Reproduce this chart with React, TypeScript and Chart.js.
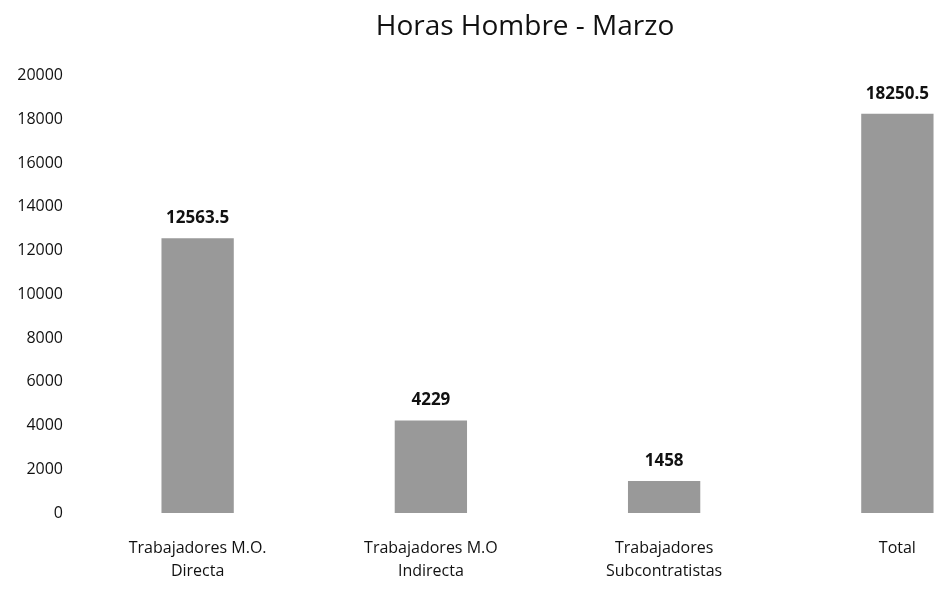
import React, { useEffect, useRef } from "react";
import { Chart, registerables } from "chart.js";

Chart.register(...registerables);

const categories: string[][] = [
  ["Trabajadores M.O.", "Directa"],
  ["Trabajadores M.O", "Indirecta"],
  ["Trabajadores", "Subcontratistas"],
  ["Total"],
];
const horas: number[] = [12563.5, 4229, 1458, 18250.5];
const titleText = "Horas Hombre - Marzo";
const yMin = 0;
const yMax = 20000;
const yStep = 2000;

const FONT = "'Open Sans', 'DejaVu Sans', sans-serif";

const valueLabels = {
  id: "valueLabels",
  afterDatasetsDraw(chart: any) {
    const ctx = chart.ctx;
    const meta = chart.getDatasetMeta(0);
    const data = chart.data.datasets[0].data as number[];
    ctx.save();
    ctx.font = `bold 17px ${FONT}`;
    ctx.fillStyle = "#111111";
    ctx.textAlign = "center";
    ctx.textBaseline = "middle";
    meta.data.forEach((el: any, i: number) => {
      ctx.fillText(String(data[i]), el.x, el.y - 20);
    });
    ctx.restore();
  },
};

export default function App() {
  const canvasRef = useRef<HTMLCanvasElement | null>(null);

  useEffect(() => {
    document.documentElement.style.overflow = "hidden";
    document.body.style.overflow = "hidden";
    const canvas = canvasRef.current;
    if (!canvas) return;
    const chart = new Chart(canvas, {
      type: "bar",
      data: {
        labels: categories,
        datasets: [
          {
            data: horas,
            backgroundColor: "#999999",
            borderWidth: 0,
            categoryPercentage: 1,
            barPercentage: 0.31,
          },
        ],
      },
      options: {
        responsive: false,
        animation: false,
        devicePixelRatio: 1,
        layout: { padding: 0 },
        plugins: {
          legend: { display: false },
          tooltip: { enabled: false },
          title: {
            display: true,
            text: titleText,
            color: "#111111",
            font: { family: FONT, size: 28, weight: "normal", lineHeight: 1.2 },
            padding: { top: 10, bottom: 32 },
          },
        },
        scales: {
          x: {
            grid: { display: false, drawTicks: false },
            border: { display: false },
            ticks: {
              color: "#111111",
              font: { family: FONT, size: 16, lineHeight: 1.45 },
              padding: 24,
              maxRotation: 0,
              autoSkip: false,
            },
            afterFit(scale: any) {
              scale.height = 79;
            },
          },
          y: {
            min: yMin,
            max: yMax,
            grid: { display: false, drawTicks: false },
            border: { display: false },
            ticks: {
              stepSize: yStep,
              color: "#111111",
              font: { family: FONT, size: 16 },
              padding: 18,
              callback: (value: any) => String(value),
            },
            afterFit(scale: any) {
              scale.width = 81;
            },
          },
          yRight: {
            type: "linear",
            position: "right",
            display: true,
            grid: { display: false, drawTicks: false },
            border: { display: false },
            ticks: { display: false },
            afterFit(scale: any) {
              scale.width = 36;
            },
          },
        },
      },
      plugins: [valueLabels],
    });
    return () => chart.destroy();
  }, []);

  return (
    <div style={{ position: "absolute", left: 0, top: 0, width: 1050, height: 592, background: "#ffffff" }}>
      <canvas ref={canvasRef} width={1050} height={592} style={{ width: 1050, height: 592, display: "block" }} />
    </div>
  );
}
